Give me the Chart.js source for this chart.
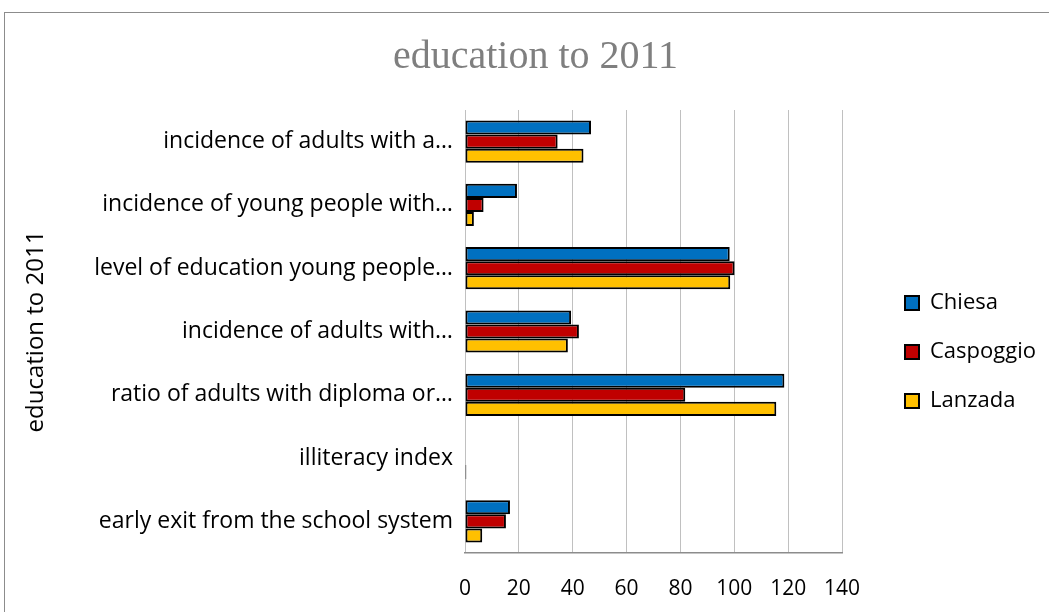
<!DOCTYPE html>
<html>
<head>
<meta charset="utf-8">
<title>education to 2011</title>
<script src="https://cdn.jsdelivr.net/npm/chart.js@4"></script>
<style>
  html, body { margin: 0; padding: 0; background: #fff; overflow: hidden; }
  #wrap { position: relative; width: 1049px; height: 612px; }
  #frame { position: absolute; left: 4px; top: 12px; width: 1100px; height: 700px; border: 1px solid #8c8c8c; }
  #eduChart { position: absolute; left: 0; top: 0; }
</style>
</head>
<body>
<div id="wrap">
  <div id="frame"></div>
  <canvas id="eduChart" width="1049" height="612"></canvas>
</div>
<script>
// === Daten ===
const categories = [
  "incidence of adults with a…",
  "incidence of young people with…",
  "level of education young people…",
  "incidence of adults with…",
  "ratio of adults with diploma or…",
  "illiteracy index",
  "early exit from the school system",
];
const chiesa    = [46.8, 19.3, 98.3, 39.4, 118.6, 0.2, 16.7];
const caspoggio = [34.4,  6.9, 100.1, 42.3, 81.8, 0.0, 15.2];
const lanzada   = [44.0,  3.3, 98.5, 38.2, 115.6, 0.5,  6.4];
const xTicks = [0, 20, 40, 60, 80, 100, 120, 140];

// === Layout ===
const PLOT_LEFT = 465;
const PLOT_RIGHT = 842;
const LEGEND_X = 905;   // linke Kante der Legenden-Kästchen
const LEGEND_Y = 292;   // Oberkante erster Eintrag
const X_TICK_PAD = 23;
const X_TICK_SIZE = 21;

Chart.defaults.font.family = "'Open Sans', 'Noto Sans', sans-serif";
Chart.defaults.color = "#000";

// Legende an die Stelle wie im Original schieben
const legendShift = {
  id: "legendShift",
  afterLayout(chart) {
    const lg = chart.legend;
    if (!lg) return;
    const p = lg.options.labels.padding;
    const dx = LEGEND_X - (lg.left + p);
    const dy = LEGEND_Y - (lg.top + p);
    lg.left += dx; lg.right += dx;
    lg.top += dy; lg.bottom += dy;
  },
};

const ds = (label, data, color) => ({
  label,
  data,
  backgroundColor: color,
  borderColor: "#000",
  borderWidth: 2,
  borderSkipped: false,
  categoryPercentage: 0.667,
  barPercentage: 1.0,
});

new Chart(document.getElementById("eduChart"), {
  type: "bar",
  data: {
    labels: categories,
    datasets: [
      ds("Chiesa", chiesa, "#0070c0"),
      ds("Caspoggio", caspoggio, "#c00000"),
      ds("Lanzada", lanzada, "#ffc000"),
    ],
  },
  options: {
    indexAxis: "y",
    responsive: false,
    animation: false,
    devicePixelRatio: 1,
    layout: { padding: { top: 12, left: 22, right: 0, bottom: 10.8 } },
    scales: {
      x: {
        min: 0,
        max: 140,
        afterBuildTicks: (s) => { s.ticks = xTicks.map((v) => ({ value: v })); },
        ticks: { font: { size: X_TICK_SIZE }, padding: X_TICK_PAD, color: "#000" },
        grid: { color: "#c0c0c0", lineWidth: 1, drawTicks: false },
        border: { color: "#8c8c8c", width: 1.5 },
        afterFit: (s) => {
          s.paddingRight = 1049 - PLOT_RIGHT;
          s.height = X_TICK_PAD + X_TICK_SIZE * 1.2;
        },
      },
      y: {
        grid: { display: false, drawTicks: false },
        border: { display: false },
        ticks: { font: { size: 23 }, padding: 12, color: "#000", autoSkip: false },
        title: {
          display: true,
          text: "education to 2011",
          font: { size: 24 },
          color: "#000",
          padding: 0,
        },
        afterFit: (s) => { s.width = PLOT_LEFT - 22; },
      },
    },
    plugins: {
      title: {
        display: true,
        text: "education to 2011",
        color: "#7f7f7f",
        font: { family: "'Liberation Serif', 'DejaVu Serif', serif", size: 40, weight: "normal" },
        padding: { top: 21, bottom: 29 },
      },
      legend: {
        position: "right",
        align: "start",
        labels: {
          boxWidth: 14,
          boxHeight: 14,
          padding: 27,
          font: { size: 22 },
          color: "#000",
        },
      },
      tooltip: { enabled: false },
    },
  },
  plugins: [legendShift],
});
</script>
</body>
</html>
